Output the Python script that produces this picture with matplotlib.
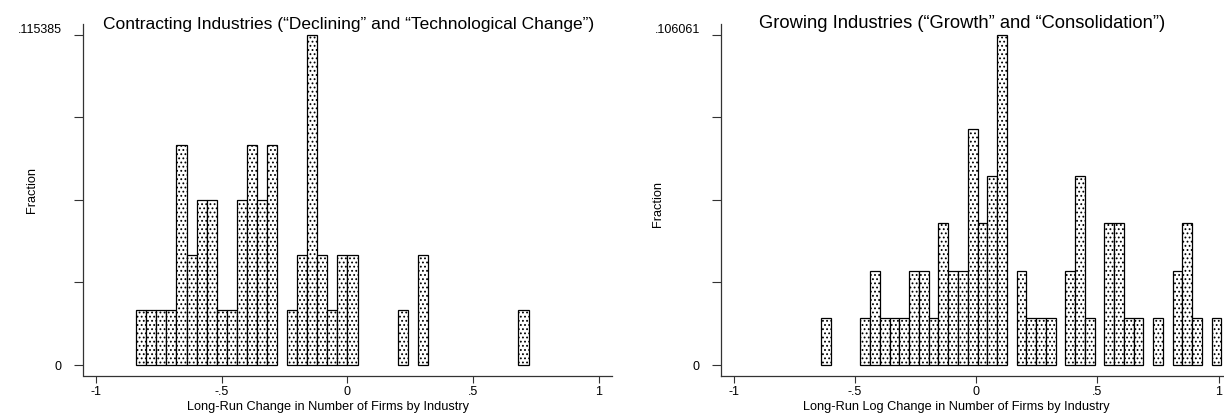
#!/usr/bin/env python3

import matplotlib
matplotlib.use("Agg")
import matplotlib.pyplot as plt
import numpy as np

plt.rcParams['font.family'] = ['Liberation Sans', 'DejaVu Sans']
plt.rcParams['hatch.linewidth'] = 0.8

W, H = 1224, 414

# histogram counts per bin (fraction = count / total)
left_start = -0.84
left_width = 0.04
left_counts = [1, 1, 1, 1, 4, 2, 3, 3, 1, 1, 3, 4, 3, 4, 0, 1, 2, 6, 2, 1, 2, 2,
               0, 0, 0, 0, 1, 0, 2, 0, 0, 0, 0, 0, 0, 0, 0, 0, 1]

right_start = -0.639
right_width = 0.04026
right_counts = [1, 0, 0, 0, 1, 2, 1, 1, 1, 2, 2, 1, 3, 2, 2, 5, 3, 4, 7, 0,
                2, 1, 1, 1, 0, 2, 4, 1, 0, 3, 3, 1, 1, 0, 1, 0, 2, 3, 1, 0, 1]

x_ticks = [-1, -0.5, 0, 0.5, 1]
x_ticklabels = ["-1", "-.5", "0", ".5", "1"]

left_title = "Contracting Industries (\u201cDeclining\u201d and \u201cTechnological Change\u201d)"
right_title = "Growing Industries (\u201cGrowth\u201d and \u201cConsolidation\u201d)"
left_xlabel = "Long-Run Change in Number of Firms by Industry"
right_xlabel = "Long-Run Log Change in Number of Firms by Industry"


def px(x0, x1, y_top, y_bot):
    return [x0 / W, 1 - y_bot / H, (x1 - x0) / W, (y_bot - y_top) / H]


def draw_panel(fig, rect, start, width, counts, xlim,
               title, title_xy, title_size, xlabel, xlabel_xy, ylabel_xy):
    ax = fig.add_axes(rect)
    counts = np.array(counts, dtype=float)
    frac = counts / counts.sum()
    lefts = start + width * np.arange(len(counts))
    keep = frac > 0
    ax.bar(lefts[keep], frac[keep], width=width, align='edge',
           color='white', edgecolor='black', linewidth=0.9, hatch='....')

    fmax = frac.max()
    ax.set_ylim(-11.3 / 329.7 * fmax, fmax + 11 / 329.7 * fmax)
    ax.set_xlim(*xlim)

    # Stata style: only 0 and max are labelled
    yt = [0, fmax / 4, fmax / 2, 3 * fmax / 4, fmax]
    ax.set_yticks(yt)
    ax.set_yticklabels(["0", "", "", "", ""])
    ax.set_xticks(x_ticks)
    ax.set_xticklabels(x_ticklabels)

    # max label sits a little above its tick
    top_label = ("%.6f" % fmax).lstrip("0")
    ax.annotate(top_label, xy=(0, fmax), xycoords=ax.get_yaxis_transform(),
                xytext=(-15.5, 4), textcoords='offset points',
                ha='right', va='center', fontsize=9)

    ax.spines['top'].set_visible(False)
    ax.spines['right'].set_visible(False)
    for s in ('left', 'bottom'):
        ax.spines[s].set_linewidth(0.9)
        ax.spines[s].set_color('#333333')
    ax.tick_params(axis='y', length=6.5, width=0.8, pad=9, labelsize=9,
                   color='#333333')
    ax.tick_params(axis='x', length=5, width=0.8, pad=1.5, labelsize=9,
                   color='#333333')

    fig.text(title_xy[0] / W, 1 - title_xy[1] / H, title, ha='center',
             va='center', fontsize=title_size)
    fig.text(xlabel_xy[0] / W, 1 - xlabel_xy[1] / H, xlabel, ha='center',
             va='center', fontsize=9.2)
    fig.text(ylabel_xy[0] / W, 1 - ylabel_xy[1] / H, "Fraction", ha='center',
             va='center', rotation=90, fontsize=9.2)
    return ax


def main():
    fig = plt.figure(figsize=(W / 100, H / 100), dpi=100)

    draw_panel(fig, px(83.5, 612, 25, 377), left_start, left_width,
               left_counts, (-1.0497, 1.052),
               left_title, (348.5, 24), 12.5, left_xlabel, (328, 407), (32, 190))
    draw_panel(fig, px(721.4, 1224, 25, 377), right_start, right_width,
               right_counts, (-1.0516, 1.0223),
               right_title, (962.5, 24), 13.2, right_xlabel, (956, 407), (658, 204))

    fig.savefig("out.png", dpi=100)


if __name__ == "__main__":
    main()
